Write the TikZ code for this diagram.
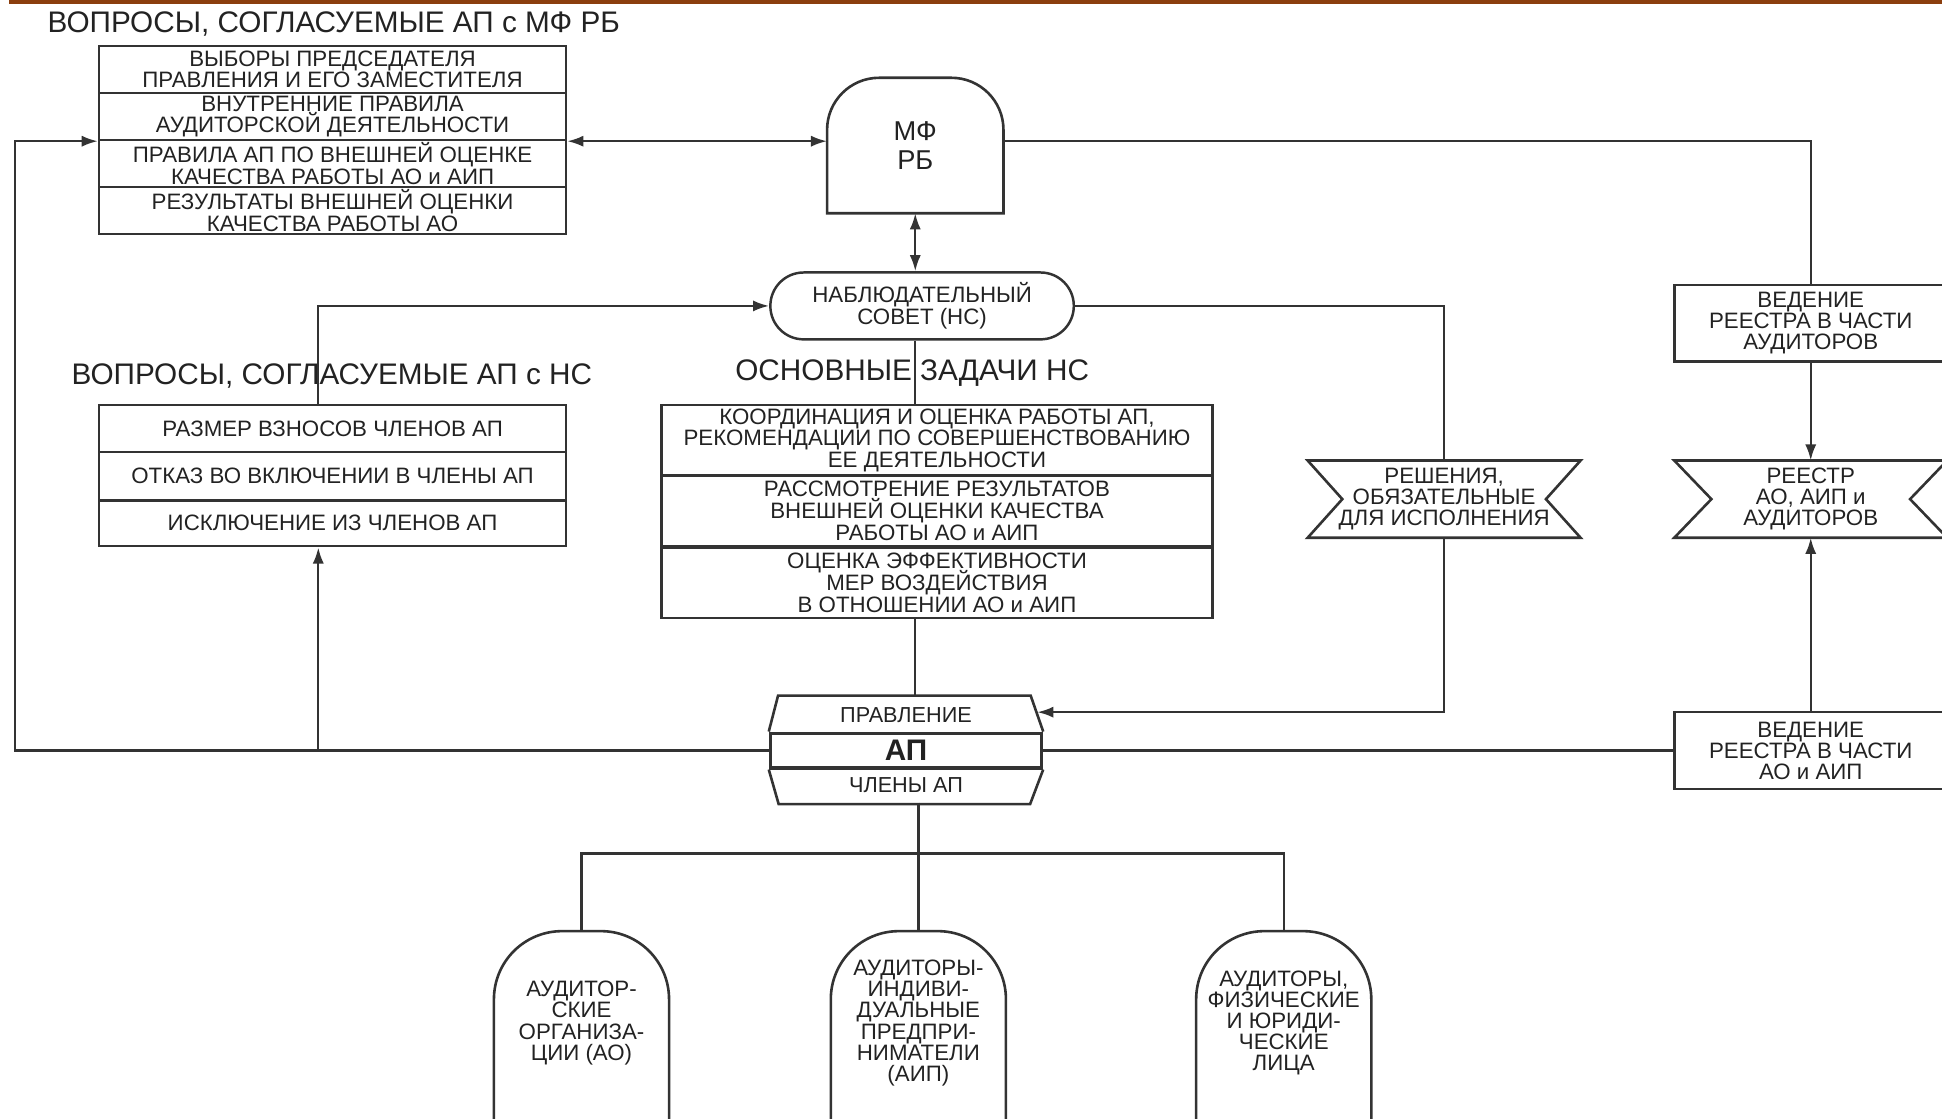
\documentclass[tikz,border=0pt]{standalone}
\usepackage{fontspec}
\setmainfont{Liberation Sans}
\usetikzlibrary{arrows.meta,calc}
\definecolor{lc}{HTML}{333333}
\definecolor{tc}{HTML}{222222}
\definecolor{stripe}{HTML}{8B3E0E}
\newcommand\tls{\lineskiplimit=-100pt\relax}
\newcommand\drawcand[1]{%
  \draw[shp] ([yshift=-25pt]#1.south west) -- ([yshift=-55pt]#1.north west)
    .. controls ([yshift=-24.6pt]#1.north west) and ([xshift=24.6pt]#1.north west) .. ([xshift=55pt]#1.north west)
    -- ([xshift=-55pt]#1.north east)
    .. controls ([xshift=-24.6pt]#1.north east) and ([yshift=-24.6pt]#1.north east) .. ([yshift=-55pt]#1.north east)
    -- ([yshift=-25pt]#1.south east);}
\begin{document}
\begin{tikzpicture}[x=1pt,y=-1pt,
  every node/.style={text=tc, align=center, inner sep=0pt},
  body/.style={font=\fontsize{18}{17.5}\selectfont\tls},
  cell/.style={body, draw=lc, line width=2pt},
  head/.style={font=\fontsize{24}{26}\selectfont},
  conn/.style={draw=lc, line width=1.9pt},
  arr/.style={conn, -{Latex[length=13pt,width=9pt]}},
  arrb/.style={conn, {Latex[length=13pt,width=9pt]}-{Latex[length=13pt,width=9pt]}},
  shp/.style={draw=lc, line width=2.1pt, line join=miter},
  cand/.style={font=\fontsize{18}{17}\selectfont\tls, minimum width=141, minimum height=148},
  tri/.style={font=\fontsize{18}{17}\selectfont\tls, minimum width=220, minimum height=62},
]
\useasboundingbox (0,0) rectangle (1568,903);
\clip (0,0) rectangle (1568,903);
\fill[stripe] (7,0) rectangle (1568,3);

% headings
\node[head] (h1) at (269.5,19) {ВОПРОСЫ, СОГЛАСУЕМЫЕ АП с МФ РБ};
\node[head] (h2) at (268,304) {ВОПРОСЫ, СОГЛАСУЕМЫЕ АП с НС};
\node[head] (h3) at (736.5,301) {ОСНОВНЫЕ ЗАДАЧИ НС};

% box 1
\node[cell, minimum width=377, minimum height=38] (q1) at (268.5,56) {ВЫБОРЫ ПРЕДСЕДАТЕЛЯ\\ПРАВЛЕНИЯ И ЕГО ЗАМЕСТИТЕЛЯ};
\node[cell, minimum width=377, minimum height=38] (q2) at (268.5,94) {ВНУТРЕННИЕ ПРАВИЛА\\АУДИТОРСКОЙ ДЕЯТЕЛЬНОСТИ};
\node[cell, minimum width=377, minimum height=38] (q3) at (268.5,132) {ПРАВИЛА АП ПО ВНЕШНЕЙ ОЦЕНКЕ\\КАЧЕСТВА РАБОТЫ АО и АИП};
\node[cell, minimum width=377, minimum height=38] (q4) at (268.5,170) {РЕЗУЛЬТАТЫ ВНЕШНЕЙ ОЦЕНКИ\\КАЧЕСТВА РАБОТЫ АО};

% box 2
\node[cell, minimum width=377, minimum height=38] (n1) at (268.5,346) {РАЗМЕР ВЗНОСОВ ЧЛЕНОВ АП};
\node[cell, minimum width=377, minimum height=39] (n2) at (268.5,384.5) {ОТКАЗ ВО ВКЛЮЧЕНИИ В ЧЛЕНЫ АП};
\node[cell, minimum width=377, minimum height=37] (n3) at (268.5,422.5) {ИСКЛЮЧЕНИЕ ИЗ ЧЛЕНОВ АП};

% box 3
\node[cell, minimum width=445, minimum height=57] (t1) at (756.5,355.5) {КООРДИНАЦИЯ И ОЦЕНКА РАБОТЫ АП,\\РЕКОМЕНДАЦИИ ПО СОВЕРШЕНСТВОВАНИЮ\\ЕЕ ДЕЯТЕЛЬНОСТИ};
\node[cell, minimum width=445, minimum height=57] (t2) at (756.5,412.5) {РАССМОТРЕНИЕ РЕЗУЛЬТАТОВ\\ВНЕШНЕЙ ОЦЕНКИ КАЧЕСТВА\\РАБОТЫ АО и АИП};
\node[cell, minimum width=445, minimum height=57] (t3) at (756.5,470.5) {ОЦЕНКА ЭФФЕКТИВНОСТИ\\МЕР ВОЗДЕЙСТВИЯ\\В ОТНОШЕНИИ АО и АИП};

% MF RB
\node[minimum width=142, minimum height=109, font=\fontsize{22}{24}\selectfont] (mf) at (739,117.5) {МФ\\РБ};
\draw[shp] (mf.south west) -- ([yshift=-42pt]mf.north west)
  .. controls ([yshift=-18.8pt]mf.north west) and ([xshift=18.8pt]mf.north west) .. ([xshift=42pt]mf.north west)
  -- ([xshift=-42pt]mf.north east)
  .. controls ([xshift=-18.8pt]mf.north east) and ([yshift=-18.8pt]mf.north east) .. ([yshift=-42pt]mf.north east)
  -- (mf.south east) -- cycle;

% NS
\node[body, draw=lc, line width=2pt, rounded corners=26.9pt, minimum width=245, minimum height=54] (nc) at (744.5,247) {НАБЛЮДАТЕЛЬНЫЙ\\СОВЕТ (НС)};

% right side
\node[tri, draw=lc, line width=2pt] (vedA) at (1462,261) {ВЕДЕНИЕ\\РЕЕСТРА В ЧАСТИ\\АУДИТОРОВ};
\node[tri] (reestr) at (1462,403) {РЕЕСТР\\АО, АИП и\\АУДИТОРОВ};
\draw[shp] (reestr.north west) -- (reestr.north east) -- ([xshift=-30pt]reestr.east) -- (reestr.south east) -- (reestr.south west) -- ([xshift=30pt]reestr.west) -- cycle;
\node[tri, draw=lc, line width=2pt] (vedB) at (1462,606) {ВЕДЕНИЕ\\РЕЕСТРА В ЧАСТИ\\АО и АИП};
\node[tri] (resh) at (1166,403) {РЕШЕНИЯ,\\ОБЯЗАТЕЛЬНЫЕ\\ДЛЯ ИСПОЛНЕНИЯ};
\draw[shp] (resh.north west) -- (resh.north east) -- ([xshift=-28pt]resh.east) -- (resh.south east) -- (resh.south west) -- ([xshift=28pt]resh.west) -- cycle;

% AP
\node[draw=lc, line width=2.6pt, minimum width=219, minimum height=28, font=\bfseries\fontsize{24}{24}\selectfont] (apm) at (731.5,606) {АП};
\draw[shp] (apm.north west) -- ++(7.5,-29) -- ++(204,0) -- (apm.north east);
\draw[shp] (apm.south west) -- ++(8,28) -- ++(203,0) -- (apm.south east);
\node[font=\fontsize{17.5}{18}\selectfont] (apt) at (731.5,577.5) {ПРАВЛЕНИЕ};
\node[font=\fontsize{17.5}{18}\selectfont] (apb) at (731.5,634) {ЧЛЕНЫ АП};
\coordinate (aptop) at (739,563);
\coordinate (apin) at (837.5,575);
\coordinate (apbot) at (741.5,648);
\coordinate (bus) at (741.5,689);
\coordinate (lft) at (12,0);
\coordinate (colL) at (257,0);

% candidates
\node[cand] (c1) at (469.5,826) {АУДИТОР-\\СКИЕ\\ОРГАНИЗА-\\ЦИИ (АО)};
\node[cand] (c2) at (741.5,826) {АУДИТОРЫ-\\ИНДИВИ-\\ДУАЛЬНЫЕ\\ПРЕДПРИ-\\НИМАТЕЛИ\\(АИП)};
\node[cand] (c3) at (1036.5,826) {АУДИТОРЫ,\\ФИЗИЧЕСКИЕ\\И ЮРИДИ-\\ЧЕСКИЕ\\ЛИЦА};
\drawcand{c1}
\drawcand{c2}
\drawcand{c3}

% connectors
\draw[arrb] (q2.south east) -- (q2.south east -| mf.west);
\draw[conn] (q2.south east -| mf.east) -| (vedA.north);
\draw[arrb] (mf.south) -- (mf.south |- nc.north);
\draw[arr] (vedA.south) -- (reestr.north);
\draw[arr] (vedB.north) -- (reestr.south);
\draw[conn] (apm.east) -- (vedB.west);
\draw[conn] (nc.east) -| (resh.north);
\draw[arr] (resh.south) |- (apin);
\draw[conn] (mf.south |- nc.south) -- (mf.south |- t1.north);
\draw[conn] (mf.south |- t3.south) -- (aptop);
\draw[arr] (apm.west) -| (lft |- q2.south west) -- (q2.south west);
\draw[arr] (colL |- apm.west) -- (colL |- n3.south);
\draw[arr] (colL |- n1.north) |- (nc.west);
\draw[conn] (apbot) -- (c2.north);
\draw[conn] (c1.north) |- (bus) -| (c3.north);
\end{tikzpicture}
\end{document}
